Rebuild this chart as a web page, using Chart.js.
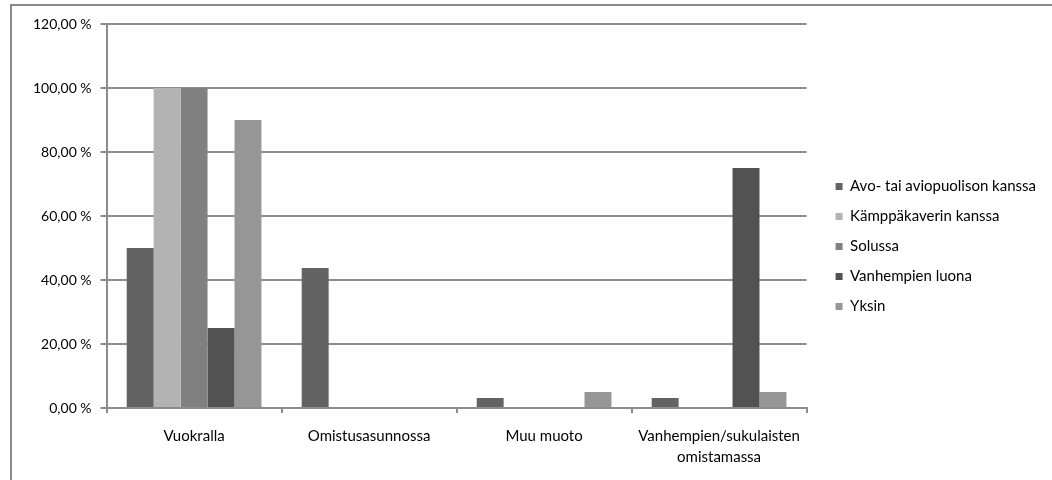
<!DOCTYPE html>
<html>
<head>
<meta charset="utf-8">
<script src="https://cdn.jsdelivr.net/npm/chart.js@4"></script>
<style>
  html, body { margin: 0; padding: 0; background: #fff; overflow: hidden; width: 1052px; height: 480px; font-family: Lato, sans-serif; }
  #frame { position: absolute; left: 10px; top: 4px; width: 1100px; height: 520px; border: 2px solid #898989; box-sizing: border-box; }
  #wrap { position: absolute; left: 0; top: 0; width: 1052px; height: 480px; }
</style>
</head>
<body>
<div id="frame"></div>
<div id="wrap"><canvas id="c" width="1052" height="480"></canvas></div>
<script>
const categories = ['Vuokralla', 'Omistusasunnossa', 'Muu muoto', ['Vanhempien/sukulaisten', 'omistamassa']];
const seriesNames = ['Avo- tai aviopuolison kanssa', 'Kämppäkaverin kanssa', 'Solussa', 'Vanhempien luona', 'Yksin'];
const avoValues = [50, 43.75, 3.125, 3.125];
const kamppaValues = [100, 0, 0, 0];
const solussaValues = [100, 0, 0, 0];
const vanhempienValues = [25, 0, 0, 75];
const yksinValues = [90, 0, 5, 5];
const yTicks = [0, 20, 40, 60, 80, 100, 120];
const colors = ['#636363', '#b3b3b3', '#808080', '#525252', '#969696'];

const seriesValues = [avoValues, kamppaValues, solussaValues, vanhempienValues, yksinValues];
const FONT = 'Lato';

function draw() {
  const gapAxis = {
    type: 'linear', position: 'right', display: true,
    grid: { display: false, drawTicks: false }, border: { display: false },
    ticks: { display: false },
    afterFit: (s) => { s.width = 14; }
  };

  new Chart(document.getElementById('c'), {
    type: 'bar',
    data: {
      labels: categories,
      datasets: seriesNames.map((n, i) => ({
        label: n,
        data: seriesValues[i],
        backgroundColor: colors[i],
        borderWidth: 0,
        barPercentage: 1,
        categoryPercentage: 0.77
      }))
    },
    options: {
      responsive: false,
      animation: false,
      devicePixelRatio: 1,
      layout: { padding: { left: 24, top: 24, right: 6, bottom: 11 } },
      plugins: {
        legend: {
          position: 'right',
          align: 'center',
          maxWidth: 320,
          labels: {
            boxWidth: 7, boxHeight: 7, padding: 15,
            color: '#000',
            font: { family: FONT, size: 15 }
          }
        },
        tooltip: { enabled: false }
      },
      scales: {
        x: {
          afterFit: (s) => { s.height = 61; },
          grid: { offset: true, drawOnChartArea: false, drawTicks: true, tickLength: 5, color: '#8c8c8c', lineWidth: 2 },
          border: { display: true, color: '#8c8c8c', width: 2 },
          ticks: { color: '#000', font: { family: FONT, size: 15, lineHeight: 1.45 }, padding: 12, maxRotation: 0, autoSkip: false }
        },
        y: {
          min: 0, max: 120,
          afterBuildTicks: (s) => { s.ticks = yTicks.map(v => ({ value: v })); },
          grid: { color: '#8c8c8c', lineWidth: 2, drawTicks: true, tickLength: 6 },
          border: { display: true, color: '#8c8c8c', width: 2 },
          ticks: {
            color: '#000', font: { family: FONT, size: 14 }, padding: 9,
            callback: (v) => v.toFixed(2).replace('.', ',') + '\u00a0%'
          }
        },
        gap: gapAxis
      }
    }
  });
}

Promise.all([document.fonts.load('15px Lato'), document.fonts.load('14px Lato')]).then(draw, draw);
</script>
</body>
</html>
